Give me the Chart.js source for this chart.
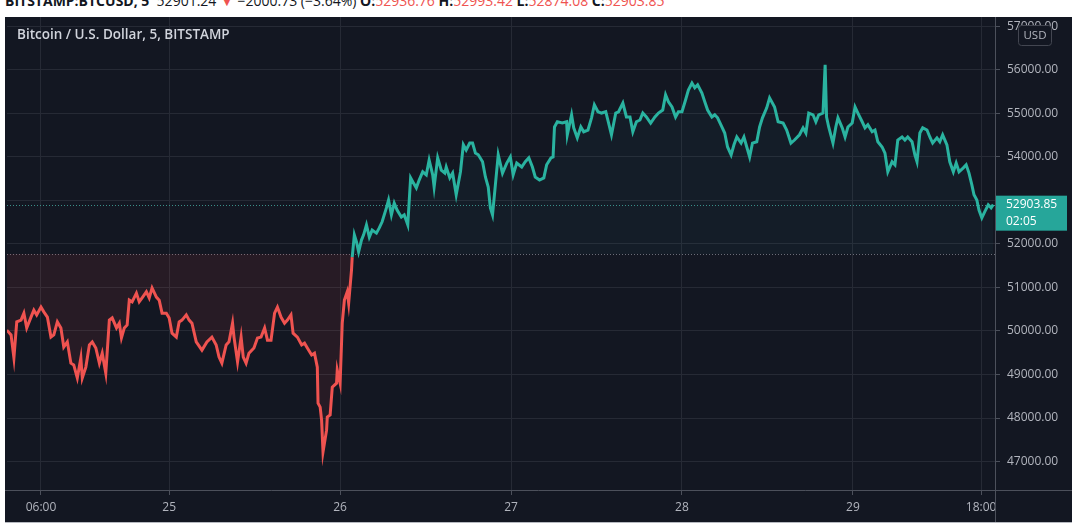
<!DOCTYPE html>
<html>
<head>
<meta charset="utf-8">
<script src="https://cdn.jsdelivr.net/npm/chart.js@4.4.1/dist/chart.umd.min.js"></script>
<style>
  html, body { margin: 0; padding: 0; background: #fff; width: 1080px; height: 531px; overflow: hidden; }
  #header { position: absolute; left: 5px; top: -9px; font: 14px "Open Sans", sans-serif; color: #131722; white-space: nowrap; }
  #header b { font-weight: 700; }
  #header .dn { color: #ef5350; }
  #panel { position: absolute; left: 5px; top: 17px; width: 1067px; height: 505px; background: #131722; border-bottom: 1px solid #b6b9c0; }
  #title { position: absolute; left: 12px; top: 8px; color: #d1d4dc; font: 600 13.5px "Open Sans", sans-serif; z-index: 2; }
  #wrap { position: absolute; left: 0; top: 0; width: 1067px; height: 505px; }
</style>
</head>
<body>
<div id="header"><b>BITSTAMP:BTCUSD, 5</b>&nbsp; 52901.24 <span class="dn">▼</span> −2000.73 (−3.64%) <b>O:</b><span class="dn">52936.76</span> <b>H:</b><span class="dn">52993.42</span> <b>L:</b><span class="dn">52874.08</span> <b>C:</b><span class="dn">52903.85</span></div>
<div id="panel">
  <div id="title">Bitcoin / U.S. Dollar, 5, BITSTAMP</div>
  <div id="wrap"><canvas id="chart"></canvas></div>
</div>
<script>
// hours since 24th 00:00 (5 min BTCUSD, sampled)
const hours = [
  1.2, 1.8, 2.2, 2.6, 3.2, 3.6, 4.0, 4.6, 5.0, 5.4, 6.0, 6.4, 6.9, 7.4, 7.8, 8.3, 8.8, 9.2, 9.7, 10.2,
  10.6, 11.1, 11.6, 11.8, 12.3, 12.8, 13.2, 13.7, 14.2, 14.6, 15.1, 15.6, 16.0, 16.6, 17.0, 17.3, 17.7, 18.1, 18.4, 18.8,
  19.4, 19.8, 20.2, 20.8, 21.2, 21.6, 22.2, 22.6, 23.0, 23.6, 24.0, 24.4, 25.0, 25.4, 25.8, 26.4, 26.8, 27.2, 27.8, 28.6,
  29.3, 30.0, 30.6, 31.0, 31.4, 32.0, 32.4, 32.9, 33.1, 33.6, 34.1, 34.4, 34.8, 35.2, 35.9, 36.4, 36.9, 37.4, 37.8, 38.3,
  38.8, 39.2, 39.7, 40.2, 40.6, 41.1, 41.4, 42.0, 42.6, 43.0, 43.4, 44.0, 44.4, 44.8, 44.9, 45.2, 45.4, 45.6, 46.1, 46.2,
  46.6, 46.9, 47.5, 47.6, 48.0, 48.3, 48.6, 49.0, 49.2, 49.6, 49.7, 50.0, 50.3, 50.6, 51.0, 51.3, 51.7, 52.1, 52.5, 53.1,
  53.5, 53.9, 54.5, 54.8, 55.2, 55.6, 56.0, 56.6, 57.0, 57.5, 57.9, 58.2, 58.7, 59.1, 59.6, 60.1, 60.5, 61.0, 61.2, 61.7,
  62.2, 62.7, 62.9, 63.4, 63.8, 64.3, 64.9, 65.3, 65.7, 66.2, 66.6, 67.0, 67.4, 68.0, 68.4, 68.8, 69.1, 69.4, 69.8, 70.2,
  70.8, 71.4, 71.9, 72.3, 72.8, 73.5, 74.0, 74.5, 75.0, 75.4, 76.0, 76.6, 77.0, 77.6, 77.9, 78.1, 78.5, 79.2, 79.8, 79.9,
  80.5, 80.8, 81.3, 81.8, 82.2, 82.8, 83.3, 83.7, 84.2, 84.7, 85.3, 85.7, 86.1, 86.7, 87.1, 87.7, 88.2, 88.7, 89.1, 89.6,
  90.1, 90.5, 91.0, 91.6, 92.2, 92.7, 93.3, 93.7, 94.1, 94.6, 95.1, 95.5, 96.0, 96.5, 96.9, 97.4, 97.8, 98.2, 98.8, 99.2,
  99.6, 100.2, 100.6, 101.0, 101.6, 102.0, 102.4, 102.9, 103.3, 103.7, 104.3, 104.7, 105.1, 105.5, 105.9, 106.5, 106.9, 107.3, 107.9, 108.3,
  109.0, 109.5, 110.2, 110.7, 111.3, 111.8, 112.5, 113.0, 113.4, 113.8, 114.4, 114.8, 115.2, 115.8, 116.1, 116.3, 116.6, 117.2, 117.6, 117.9,
  118.5, 118.9, 119.3, 119.9, 120.3, 120.7, 121.3, 121.7, 122.1, 122.7, 123.1, 123.5, 124.1, 124.5, 124.9, 125.5, 125.9, 126.3, 126.9, 127.3,
  127.7, 128.3, 128.7, 129.0, 129.4, 129.8, 130.4, 130.8, 131.2, 131.8, 132.2, 132.6, 133.2, 133.6, 134.1, 134.5, 134.9, 135.5, 135.9, 136.3,
  136.7, 137.0, 137.4, 137.7, 138.1, 138.5, 139.0, 139.4, 139.7,
];
const prices = [
  50020, 49910, 49380, 50210, 50250, 50410, 50070, 50320, 50480, 50370, 50550, 50440, 50320, 49860, 49910, 50210, 50070, 49630, 49750, 49260,
  49220, 48920, 49380, 48920, 49170, 49680, 49750, 49610, 49260, 49490, 49030, 50250, 50300, 50070, 50180, 49840, 50070, 50140, 50710, 50670,
  50870, 50670, 50760, 50900, 50760, 50990, 50780, 50710, 50410, 50410, 50300, 49950, 49860, 50210, 50250, 50370, 50250, 50180, 49750, 49560,
  49750, 49860, 49680, 49400, 49260, 49680, 49750, 50180, 49860, 49290, 49860, 49400, 49260, 49490, 49610, 49840, 49860, 50070, 49790, 49790,
  50410, 50550, 50320, 50180, 50250, 50370, 49950, 49860, 49680, 49720, 49610, 49450, 49490, 49170, 48340, 48250, 47950, 47220, 47720, 48020,
  48070, 48710, 48800, 49100, 48800, 50180, 50710, 50900, 50640, 51400, 51700, 52210, 52050, 51820, 52090, 52210, 52440, 52160, 52320, 52250,
  52370, 52510, 52830, 53010, 52670, 52940, 52780, 52620, 52670, 52440, 53520, 53430, 53290, 53470, 53660, 53590, 53930, 53590, 53310, 53980,
  53700, 53630, 53770, 53520, 53630, 53130, 53660, 54280, 54160, 54320, 54320, 54090, 54050, 53890, 53540, 53310, 52830, 52670, 53360, 54050,
  53630, 53860, 54000, 53590, 53860, 53770, 53890, 53980, 53770, 53540, 53470, 53520, 53820, 53980, 54000, 54690, 54810, 54780, 54810, 54510,
  54970, 54670, 54440, 54690, 54580, 54620, 54900, 55200, 55040, 55010, 55040, 54780, 54510, 55010, 55040, 55240, 54920, 54920, 54580, 54810,
  54850, 55010, 54920, 54780, 54920, 55010, 55080, 55430, 55270, 55150, 54920, 55040, 55040, 55310, 55540, 55700, 55590, 55660, 55470, 55270,
  55080, 54920, 54970, 54900, 54690, 54550, 54230, 54050, 54280, 54460, 54320, 54460, 54230, 54000, 54320, 54350, 54690, 54900, 55130, 55360,
  55150, 54810, 54780, 54620, 54320, 54390, 54510, 54670, 54550, 55010, 54970, 54810, 54970, 55010, 56120, 54920, 54690, 54320, 54690, 54900,
  54670, 54460, 54690, 54780, 55150, 55010, 54810, 54670, 54740, 54580, 54620, 54350, 54230, 54090, 53660, 53890, 53820, 54390, 54460, 54390,
  54460, 54350, 54050, 53890, 54550, 54670, 54620, 54460, 54320, 54440, 54350, 54510, 54280, 53890, 53660, 53860, 53660, 53750, 53820, 53630,
  53360, 53130, 53010, 52780, 52600, 52740, 52900, 52830, 52903.85,
];

const timeTicks = [6, 24, 48, 72, 96, 120, 138];
const timeLabels = ["06:00", "25", "26", "27", "28", "29", "18:00"];
const priceTicks = [47000, 48000, 49000, 50000, 51000, 52000, 53000, 54000, 55000, 56000, 57000];
const baseline = 51770;
const lastPrice = 52903.85;
const lastTimer = "02:05";

const teal = "#2ab3a0";
const red = "#ef5350";
const bg = "#131722";
const gridColor = "#262a35";
const axisLineColor = "#4c505b";
const textColor = "#b2b5be";
const font = { family: "'Open Sans', sans-serif", size: 12 };

function noScalePadding(scale) {
  scale.paddingTop = 0;
  scale.paddingBottom = 0;
  scale.paddingLeft = 0;
  scale.paddingRight = 0;
}

const overlay = {
  id: "overlay",
  beforeDatasetsDraw(chart) {
    const { ctx, chartArea, scales } = chart;
    ctx.save();
    ctx.lineWidth = 1;
    ctx.setLineDash([1, 2]);
    [[baseline, "#6a6d78"], [lastPrice, "#3a8f88"]].forEach(([value, color]) => {
      const y = Math.round(scales.y.getPixelForValue(value)) + 0.5;
      ctx.strokeStyle = color;
      ctx.beginPath();
      ctx.moveTo(chartArea.left, y);
      ctx.lineTo(chartArea.right, y);
      ctx.stroke();
    });
    ctx.restore();
  },
  afterDraw(chart) {
    const { ctx, chartArea, scales, width, height } = chart;
    ctx.save();
    // price scale panel covers the time labels that run under it
    ctx.fillStyle = bg;
    ctx.fillRect(chartArea.right + 1, chartArea.bottom + 1, width - chartArea.right, height - chartArea.bottom);
    ctx.strokeStyle = axisLineColor;
    ctx.lineWidth = 1;
    ctx.beginPath();
    ctx.moveTo(0, Math.round(chartArea.bottom) + 0.5);
    ctx.lineTo(width, Math.round(chartArea.bottom) + 0.5);
    ctx.moveTo(Math.round(chartArea.right) + 0.5, 0);
    ctx.lineTo(Math.round(chartArea.right) + 0.5, height);
    ctx.stroke();

    // last price tag
    const py = scales.y.getPixelForValue(lastPrice);
    const left = chartArea.right + 1;
    ctx.fillStyle = "#26a69a";
    ctx.fillRect(left, py - 9, 71, 35);
    ctx.fillStyle = "#ffffff";
    ctx.font = "12px 'Open Sans', sans-serif";
    ctx.textAlign = "left";
    ctx.textBaseline = "middle";
    ctx.fillText(lastPrice.toFixed(2), left + 10, py);
    ctx.fillText(lastTimer, left + 10, py + 17);

    // currency box
    const bx = 1013;
    const by = 8;
    ctx.beginPath();
    ctx.roundRect(bx + 0.5, by + 0.5, 33, 20, 3);
    ctx.fillStyle = bg;
    ctx.fill();
    ctx.strokeStyle = "#434651";
    ctx.stroke();
    ctx.fillStyle = textColor;
    ctx.font = "11.5px 'Open Sans', sans-serif";
    ctx.textAlign = "center";
    ctx.fillText("USD", bx + 17, by + 11);
    ctx.restore();
  },
};

const points = hours.map((h, index) => ({ x: h, y: prices[index] }));

new Chart(document.querySelector("#chart"), {
  type: "line",
  data: {
    datasets: [
      {
        data: points,
        borderWidth: 3,
        pointRadius: 0,
        tension: 0,
        borderColor: teal,
        segment: {
          borderColor: (ctx) => ((ctx.p0.parsed.y + ctx.p1.parsed.y) / 2 >= baseline ? teal : red),
        },
        fill: {
          target: { value: baseline },
          above: "rgba(38, 166, 154, 0.05)",
          below: "rgba(239, 83, 80, 0.09)",
        },
      },
    ],
  },
  options: {
    responsive: true,
    maintainAspectRatio: false,
    animation: false,
    layout: { autoPadding: false, padding: { left: 2, right: 0, top: 0, bottom: 0 } },
    plugins: { legend: { display: false }, tooltip: { enabled: false } },
    scales: {
      x: {
        type: "linear",
        min: 1.23,
        max: 139.95,
        afterBuildTicks: (scale) => {
          scale.ticks = timeTicks.map((value) => ({ value }));
        },
        afterFit: (scale) => {
          scale.height = 32;
          noScalePadding(scale);
        },
        ticks: {
          color: textColor,
          font,
          padding: 5,
          maxRotation: 0,
          autoSkip: false,
          callback: (value) => timeLabels[timeTicks.indexOf(value)] ?? "",
        },
        grid: { color: gridColor, tickColor: axisLineColor, tickLength: 5 },
        border: { display: false },
      },
      y: {
        position: "right",
        min: 46345,
        max: 57218,
        afterBuildTicks: (scale) => {
          scale.ticks = priceTicks.map((value) => ({ value }));
        },
        afterFit: (scale) => {
          scale.width = 77;
          noScalePadding(scale);
        },
        ticks: {
          color: textColor,
          font,
          padding: 7,
          // the last price tag hides the label it sits on
          callback: (value) => (Math.abs(value - lastPrice) < 600 ? "" : value.toFixed(2)),
        },
        grid: { color: gridColor, tickColor: axisLineColor, tickLength: 5 },
        border: { display: false },
      },
    },
  },
  plugins: [overlay],
});
</script>
</body>
</html>
